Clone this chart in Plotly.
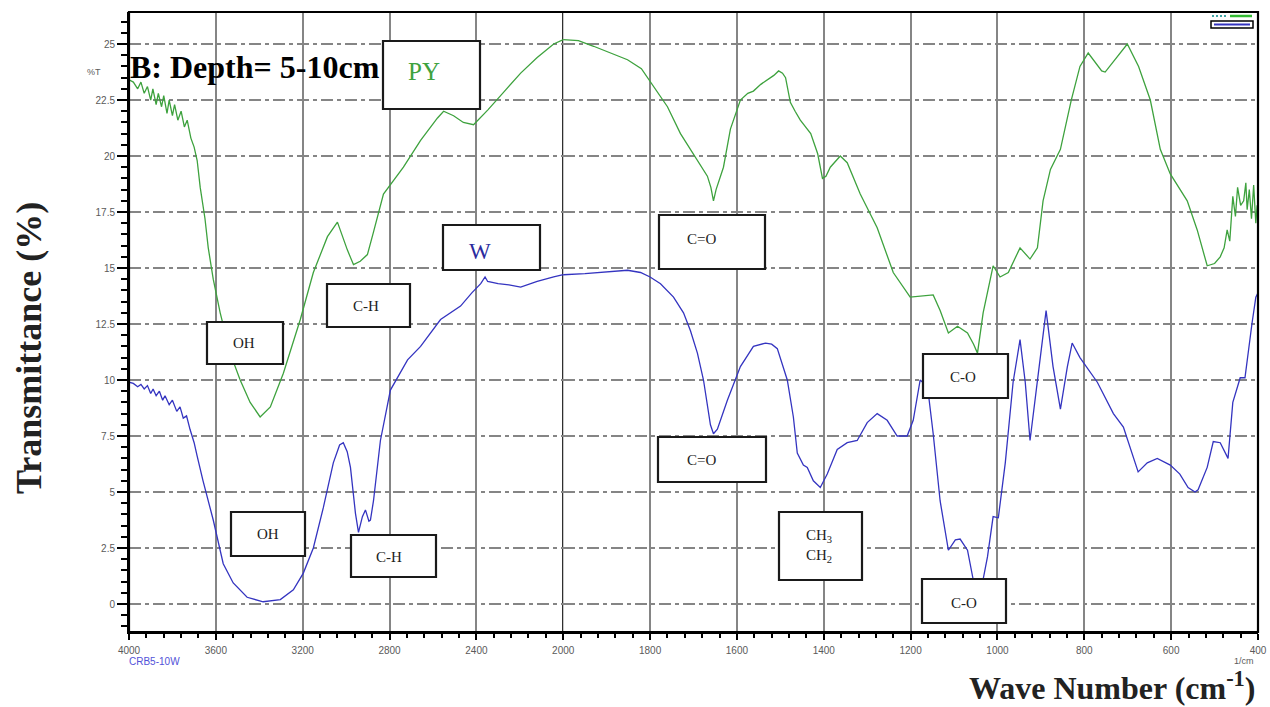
import plotly.graph_objects as go

# ---------------- data ----------------
py_wavenumber = [4000, 3980, 3960, 3945, 3930, 3915, 3900, 3890, 3875, 3865, 3850, 3840, 3825, 3815, 3800, 3790,
                 3775, 3760, 3745, 3732, 3715, 3700, 3686, 3672, 3650, 3635, 3612, 3580, 3534, 3488, 3442, 3396,
                 3349, 3289, 3211, 3151, 3086, 3040, 2994, 2966, 2935, 2902, 2874, 2828, 2736, 2657, 2579, 2551,
                 2505, 2460, 2413, 2348, 2270, 2196, 2120, 2044, 2000, 1965, 1930, 1890, 1852, 1820, 1799, 1760,
                 1730, 1700, 1680, 1668, 1660, 1654, 1648, 1640, 1631, 1615, 1592, 1575, 1562, 1545, 1530, 1515,
                 1504, 1495, 1488, 1477, 1466, 1454, 1430, 1414, 1403, 1395, 1385, 1362, 1346, 1316, 1277, 1240,
                 1201, 1170, 1148, 1132, 1113, 1092, 1069, 1055, 1046, 1033, 1010, 994, 975, 948, 925, 908,
                 895, 878, 855, 830, 810, 791, 775, 760, 752, 730, 701, 675, 648, 625, 602, 563,
                 540, 517, 500, 487, 478, 471, 465, 458, 452, 447, 440, 433, 428, 425, 420, 415,
                 410, 405, 402]
py_transmittance = [23.4, 23.3, 23.0, 23.3, 22.8, 23.1, 22.5, 23.0, 22.3, 22.8, 22.2, 22.7, 21.9, 22.5, 21.8, 22.3,
                    21.6, 22.0, 21.3, 21.6, 20.8, 20.4, 19.8, 18.6, 17.2, 15.9, 14.5, 13.0, 11.2, 10.0, 9.0, 8.35,
                    8.8, 10.3, 12.7, 14.8, 16.4, 17.05, 15.8, 15.15, 15.3, 15.6, 16.6, 18.3, 19.5, 20.7, 21.7, 22.0,
                    21.8, 21.5, 21.4, 22.05, 22.9, 23.7, 24.4, 25.0, 25.2, 25.15, 24.9, 24.6, 24.3, 23.9, 23.3, 22.2,
                    21.0, 20.1, 19.5, 19.1, 18.6, 18.0, 18.5, 19.0, 19.5, 21.2, 22.5, 22.8, 22.9, 23.2, 23.4, 23.6,
                    23.8, 23.7, 23.5, 22.4, 22.0, 21.6, 21.0, 20.1, 19.0, 19.1, 19.5, 20.0, 19.7, 18.3, 16.8, 14.8,
                    13.7, 13.75, 13.8, 13.1, 12.1, 12.4, 12.1, 11.6, 11.2, 13.0, 15.1, 14.6, 14.8, 15.9, 15.4, 15.9,
                    18.0, 19.4, 20.3, 22.5, 24.0, 24.6, 24.2, 23.8, 23.75, 24.3, 25.0, 24.0, 22.5, 20.3, 19.2, 18.0,
                    16.7, 15.1, 15.2, 15.5, 15.9, 16.7, 16.2, 18.2, 17.3, 18.6, 17.8, 18.0, 18.8, 17.6, 18.5, 17.2,
                    18.7, 17.0, 17.8]

w_wavenumber = [4000, 3980, 3960, 3945, 3930, 3915, 3900, 3889, 3875, 3860, 3845, 3834, 3815, 3800, 3780, 3765,
                3750, 3735, 3719, 3700, 3686, 3659, 3612, 3566, 3520, 3456, 3382, 3303, 3243, 3197, 3151, 3105,
                3059, 3030, 3013, 2995, 2980, 2957, 2943, 2925, 2911, 2895, 2888, 2874, 2842, 2796, 2717, 2657,
                2565, 2473, 2420, 2380, 2360, 2348, 2300, 2250, 2196, 2120, 2044, 2000, 1950, 1914, 1880, 1852,
                1822, 1800, 1776, 1746, 1723, 1707, 1691, 1677, 1661, 1654, 1645, 1622, 1592, 1562, 1534, 1520,
                1507, 1484, 1470, 1461, 1447, 1438, 1424, 1408, 1392, 1369, 1346, 1323, 1300, 1277, 1254, 1231,
                1208, 1194, 1178, 1161, 1148, 1132, 1113, 1097, 1086, 1069, 1056, 1044, 1033, 1023, 1010, 998,
                982, 964, 948, 936, 925, 908, 888, 872, 855, 839, 828, 810, 770, 733, 710, 676,
                655, 632, 602, 580, 561, 545, 538, 517, 503, 487, 469, 458, 441, 430, 423, 414,
                405, 400]
w_transmittance = [9.9, 9.85, 9.7, 9.8, 9.6, 9.75, 9.4, 9.6, 9.3, 9.5, 9.1, 9.3, 8.9, 9.1, 8.6, 8.8,
                   8.3, 8.4, 7.8, 7.2, 6.6, 5.5, 3.75, 1.8, 0.94, 0.3, 0.1, 0.2, 0.63, 1.38, 2.5, 4.3,
                   6.3, 7.1, 7.2, 6.8, 6.1, 4.05, 3.2, 3.9, 4.2, 3.7, 3.75, 4.6, 7.3, 9.55, 10.9, 11.5,
                   12.7, 13.3, 13.9, 14.3, 14.6, 14.4, 14.3, 14.25, 14.15, 14.4, 14.6, 14.7, 14.75, 14.8, 14.85, 14.9,
                   14.8, 14.6, 14.3, 13.7, 13.0, 12.2, 11.2, 10.0, 8.0, 7.6, 7.8, 9.1, 10.6, 11.5, 11.65, 11.6,
                   11.4, 10.0, 8.35, 6.74, 6.2, 6.1, 5.5, 5.2, 5.8, 6.9, 7.2, 7.3, 8.1, 8.5, 8.2, 7.5,
                   7.5, 8.2, 10.0, 9.7, 7.6, 4.6, 2.4, 2.86, 2.9, 2.4, 1.1, 0.7, 1.1, 2.1, 3.9, 3.85,
                   6.3, 9.9, 11.8, 9.9, 7.3, 9.9, 13.1, 10.6, 8.7, 10.6, 11.65, 11.0, 9.9, 8.5, 7.9, 5.9,
                   6.3, 6.5, 6.2, 5.8, 5.2, 5.0, 5.1, 6.1, 7.25, 7.2, 6.5, 9.0, 10.1, 10.1, 11.2, 12.5,
                   13.7, 13.9]

left_ticks = [4000, 3600, 3200, 2800, 2400, 2000]
right_ticks = [1800, 1600, 1400, 1200, 1000, 800, 600, 400]
y_ticks = [0, 2.5, 5, 7.5, 10, 12.5, 15, 17.5, 20, 22.5, 25]
y_ticktext = ["0", "2.5", "5", "7.5", "10", "12.5", "15", "17.5", "20", "22.5", "25"]

GREEN = "#3ea23e"
BLUE = "#3434c0"

# ------------- geometry helpers (page pixels -> paper) -------------
W, H = 1270, 707
L, R, T, B = 129, 0, 12, 75
PW, PH = 1129, H - T - B


def px(x):
    return (x - L) / PW


def py(y):
    return (H - B - y) / PH


split = 1000 / 2600  # 4000-2000 drawn at half the scale of 2000-400

fig = go.Figure()
for xa in ["x", "x2"]:
    fig.add_trace(go.Scatter(x=py_wavenumber, y=py_transmittance, mode="lines", xaxis=xa, yaxis="y",
                             line=dict(color=GREEN, width=1.3), showlegend=False, hoverinfo="skip"))
    fig.add_trace(go.Scatter(x=w_wavenumber, y=w_transmittance, mode="lines", xaxis=xa, yaxis="y",
                             line=dict(color=BLUE, width=1.3), showlegend=False, hoverinfo="skip"))

tickfont = dict(family="Liberation Sans, Arial", size=10, color="#5a5a5a")
xcommon = dict(showgrid=True, gridcolor="#858585", gridwidth=1.6, zeroline=False,
               ticks="outside", ticklen=6, tickwidth=2, tickcolor="black",
               showline=True, linecolor="black", linewidth=2, tickfont=tickfont, ticklabelstandoff=2)

fig.update_layout(
    width=W, height=H,
    margin=dict(l=L, r=R, t=T, b=B),
    paper_bgcolor="white", plot_bgcolor="white",
    xaxis=dict(domain=[0, split], range=[4000, 2000], tickmode="array", tickvals=left_ticks,
               ticktext=[str(v) for v in left_ticks], anchor="y",
               minor=dict(tickmode="linear", tick0=0, dtick=80, ticks="outside", ticklen=4,
                          tickwidth=2, tickcolor="black", showgrid=False), **xcommon),
    xaxis2=dict(domain=[split, 1], range=[2000, 400], tickmode="array", tickvals=right_ticks,
                ticktext=[str(v) for v in right_ticks], anchor="y",
                minor=dict(tickmode="linear", tick0=0, dtick=40, ticks="outside", ticklen=4,
                           tickwidth=2, tickcolor="black", showgrid=False), **xcommon),
    yaxis=dict(range=[-1.25, 26.43], tickmode="array", tickvals=y_ticks, ticktext=y_ticktext,
               showgrid=True, gridcolor="#858585", gridwidth=1.6, griddash="12px,4px,4px,4px",
               zeroline=False, ticks="outside", ticklen=10, tickwidth=2, tickcolor="black",
               showline=True, linecolor="black", linewidth=2, tickfont=tickfont,
               minor=dict(tickmode="linear", tick0=0, dtick=0.5, ticks="outside", ticklen=6,
                          tickwidth=1.5, tickcolor="black", showgrid=False)),
)

shapes = []
# plot frame and divider at 2000
shapes.append(dict(type="rect", xref="paper", yref="paper", x0=0, x1=1, y0=0, y1=1,
                   line=dict(color="black", width=2.2), layer="above"))
shapes.append(dict(type="line", xref="x", yref="paper", x0=2000, x1=2000, y0=0, y1=1,
                   line=dict(color="#111111", width=2.2), layer="below"))

# label boxes: (left, top, right, bottom) in page pixels, text, text centre, colour, size
boxes = [
    ((383, 41, 480, 109), "PY", (424, 71), GREEN, 25),
    ((443, 225, 540, 270), "W", (480, 251), "#2b2b9e", 23),
    ((327, 284, 410, 327), "C-H", (366, 306), "#222222", 15),
    ((207, 322, 283, 364), "OH", (244, 343), "#222222", 15),
    ((231, 512, 305, 556), "OH", (268, 534), "#222222", 15),
    ((351, 535, 436, 577), "C-H", (389, 557), "#222222", 15),
    ((659, 215, 765, 269), "C=O", (701, 239), "#222222", 15),
    ((658, 437, 766, 482), "C=O", (701, 460), "#222222", 15),
    ((779, 512, 862, 580), "CH<sub>3</sub><br>CH<sub>2</sub>", (819, 546), "#222222", 15),
    ((923, 354, 1008, 398), "C-O", (963, 377), "#222222", 15),
    ((922, 579, 1006, 623), "C-O", (964, 603), "#222222", 15),
]
annotations = []
for (x0, y0, x1, y1), txt, (tx, ty), col, sz in boxes:
    shapes.append(dict(type="rect", xref="paper", yref="paper", x0=px(x0), x1=px(x1), y0=py(y1), y1=py(y0),
                       fillcolor="white", line=dict(color="#1a1a1a", width=2.2), layer="above"))
    annotations.append(dict(xref="paper", yref="paper", x=px(tx), y=py(ty), text=txt, showarrow=False,
                            xanchor="center", yanchor="middle",
                            font=dict(family="Liberation Serif, Times New Roman", size=sz, color=col)))

# tiny legend glyph in the top right corner
shapes.append(dict(type="rect", xref="paper", yref="paper", x0=px(1211), x1=px(1253), y0=py(28), y1=py(21),
                   fillcolor="white", line=dict(color="black", width=1.5), layer="above"))
shapes.append(dict(type="line", xref="paper", yref="paper", x0=px(1214), x1=px(1250), y0=py(24.5), y1=py(24.5),
                   line=dict(color=BLUE, width=2), layer="above"))
shapes.append(dict(type="line", xref="paper", yref="paper", x0=px(1230), x1=px(1252), y0=py(16), y1=py(16),
                   line=dict(color="#33bb33", width=2.5), layer="above"))
shapes.append(dict(type="line", xref="paper", yref="paper", x0=px(1212), x1=px(1226), y0=py(16), y1=py(16),
                   line=dict(color="#3fa6a6", width=2, dash="2px,2px"), layer="above"))

serif_bold = "Liberation Serif, Times New Roman"
annotations += [
    dict(xref="paper", yref="paper", x=px(128), y=py(67), text="<b>B: Depth= 5-10cm</b>", showarrow=False,
         xanchor="left", yanchor="middle", font=dict(family=serif_bold, size=32, color="black")),
    dict(xref="paper", yref="paper", x=px(29), y=py(348), text="<b>Transmittance (%)</b>", showarrow=False,
         textangle=-90, xanchor="center", yanchor="middle", font=dict(family=serif_bold, size=36, color="#222222")),
    dict(xref="paper", yref="paper", x=px(1257), y=py(686), text="<b>Wave Number (cm<sup>-1</sup>)</b>",
         showarrow=False, xanchor="right", yanchor="middle", font=dict(family=serif_bold, size=32, color="#222222")),
    dict(xref="paper", yref="paper", x=px(103), y=py(72), text="%T", showarrow=False, xanchor="right",
         yanchor="middle", font=dict(family="Liberation Sans, Arial", size=9, color="#5a5a5a")),
    dict(xref="paper", yref="paper", x=px(127), y=py(661), text="CRB5-10W", showarrow=False, xanchor="left",
         yanchor="middle", font=dict(family="Liberation Sans, Arial", size=10, color="#5252d8")),
    dict(xref="paper", yref="paper", x=px(1256), y=py(661), text="1/cm", showarrow=False, xanchor="right",
         yanchor="middle", font=dict(family="Liberation Sans, Arial", size=9, color="#5a5a5a")),
]

fig.update_layout(shapes=shapes, annotations=annotations)
fig.write_html("out.html")
